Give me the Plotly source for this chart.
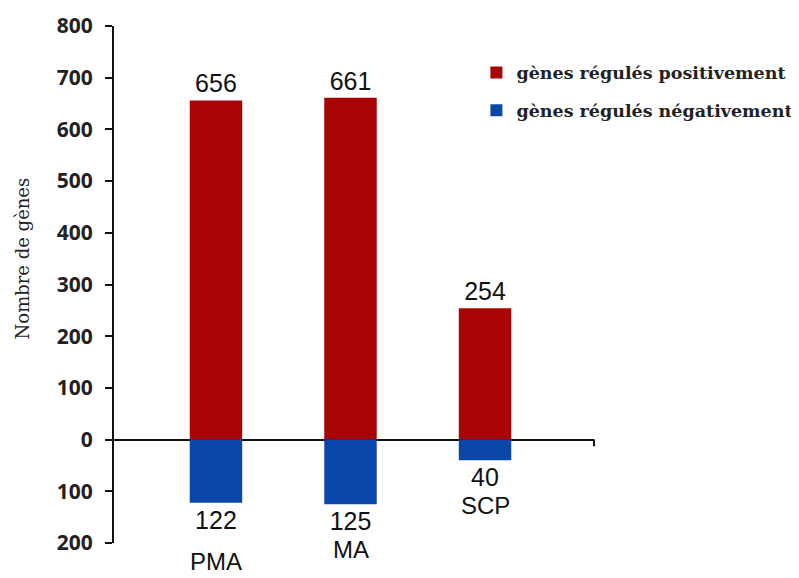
import plotly.graph_objects as go

categories = ["PMA", "MA", "SCP"]
up_values = [656, 661, 254]
down_values = [122, 125, 40]
tick_vals = [-200, -100, 0, 100, 200, 300, 400, 500, 600, 700, 800]
tick_text = ["200", "100", "0", "100", "200", "300", "400", "500", "600", "700", "800"]
series_names = ["gènes régulés positivement", "gènes régulés négativement"]
y_title = "Nombre de gènes"
cat_label_y = [-235, -212, -127]

RED = "#A80404"
BLUE = "#0A47A8"
Y_MIN, Y_MAX = -200, 800

fig = go.Figure()
fig.add_trace(go.Bar(
    x=categories, y=up_values, name=series_names[0],
    marker=dict(color=RED, line=dict(width=0)),
    text=[str(v) for v in up_values], textposition="outside",
    textfont=dict(family="Liberation Sans", size=25, color="#111"),
    cliponaxis=False, width=0.39, legend="legend",
))
fig.add_trace(go.Bar(
    x=categories, y=[-v for v in down_values], name=series_names[1],
    marker=dict(color=BLUE, line=dict(width=0)),
    text=[str(v) for v in down_values], textposition="outside",
    textfont=dict(family="Liberation Sans", size=25, color="#111"),
    cliponaxis=False, width=0.39, legend="legend2",
))

for c, yv in zip(categories, cat_label_y):
    fig.add_annotation(x=c, y=(yv - Y_MIN) / (Y_MAX - Y_MIN), text=c, showarrow=False,
                       xref="x", yref="paper", xanchor="center", yanchor="middle",
                       font=dict(family="Liberation Sans", size=24, color="#111"))

# y-axis title (placed as rotated text)
fig.add_annotation(x=-0.19, y=0.55, xref="paper", yref="paper", text=y_title,
                   textangle=-90, showarrow=False, xanchor="center", yanchor="middle",
                   font=dict(family="DejaVu Serif", size=18, color="#222"))

# right-end tick of the horizontal axis
fig.add_shape(type="line", xref="paper", yref="y", x0=1, x1=1, y0=0, y1=-13,
              line=dict(color="#111", width=2))

legend_font = dict(family="DejaVu Serif", size=17.5, color="#222", weight="bold")
fig.update_layout(
    width=799, height=578,
    margin=dict(l=106, r=213, t=18, b=43, autoexpand=False),
    plot_bgcolor="white", paper_bgcolor="white",
    barmode="overlay",
    showlegend=True,
    legend=dict(x=0.755, y=0.91, xanchor="left", yanchor="middle", font=legend_font,
                bgcolor="rgba(0,0,0,0)", itemwidth=30),
    legend2=dict(x=0.755, y=0.837, xanchor="left", yanchor="middle", font=legend_font,
                 bgcolor="rgba(0,0,0,0)", itemwidth=30),
    xaxis=dict(range=[-0.758, 2.81], showticklabels=False, ticks="",
               showline=False, showgrid=False, zeroline=False, automargin=False),
    yaxis=dict(range=[Y_MIN, Y_MAX], tickvals=tick_vals, ticktext=tick_text,
               automargin=False,
               showline=True, linecolor="#111", linewidth=2,
               ticks="outside", ticklen=7, tickwidth=2, tickcolor="#111",
               ticklabelstandoff=8,
               showgrid=False, zeroline=True, zerolinecolor="#111", zerolinewidth=2,
               tickfont=dict(family="Open Sans", size=21, color="#222", weight="bold")),
)

fig.write_html("out.html")
